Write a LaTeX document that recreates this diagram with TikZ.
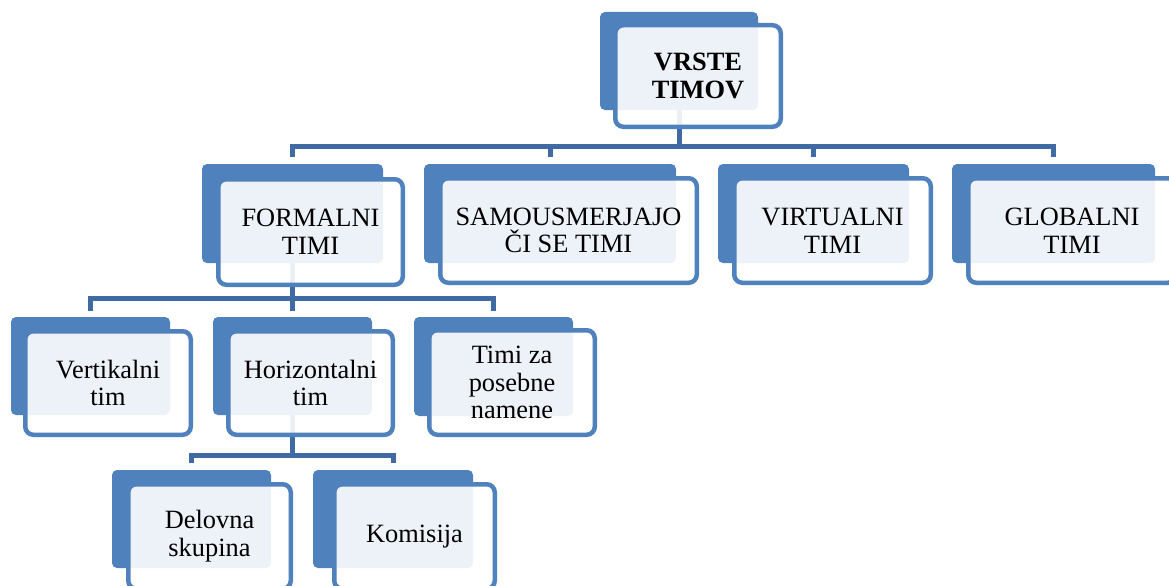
\documentclass[tikz,border=0pt]{standalone}
\usepackage{fontspec}
\setmainfont{Liberation Serif}
\definecolor{accent}{HTML}{4F81BD}
\definecolor{linkblue}{HTML}{406AA3}
\tikzset{
  backbox/.style={rectangle, fill=accent, draw=none, rounded corners=3.75pt,
    inner sep=0pt, outer sep=0pt},
  frontbox/.style={rectangle, draw=accent, line width=3.375pt, fill=white,
    fill opacity=0.9, text opacity=1, rounded corners=6pt, inner sep=0pt,
    outer sep=0pt, align=center, font=\fontsize{19.8}{20.8}\selectfont},
  conn/.style={draw=linkblue, line width=3.75pt}
}
% back plate: name, left, top, right, bottom (pixel grid)
\newcommand\backrect[5]{\node[backbox, minimum width={(#4-(#2))*0.75pt},
  minimum height={(#5-(#3))*0.75pt}] (#1) at ({(#2+#4)/2},{(#3+#5)/2}) {};}
% framed text panel: name, left, top, right, bottom, text
\newcommand\frontrect[6]{\node[frontbox, minimum width={(#4-(#2)-4.5)*0.75pt},
  minimum height={(#5-(#3)-4.5)*0.75pt}] (#1) at ({(#2+#4)/2},{(#3+#5)/2}) {#6};}
% elbow connector: parent, child, bar level, gap above child
\newcommand\link[4]{\draw[conn] (#1.south) |- (#2.north |- 0,#3) -- ([yshift=#4*0.75pt]#2.north);}
\begin{document}
\begin{tikzpicture}[x=0.75pt,y=-0.75pt]
\clip (0,0) rectangle (1169,585);
\fill[white] (0,0) rectangle (1169,585);

% back plates
\backrect{vrsteB}{600}{12}{758}{110}
\backrect{formB}{202}{164}{383}{263}
\backrect{samoB}{424}{164}{676}{263}
\backrect{virtB}{718}{164}{909}{263}
\backrect{globB}{952}{164}{1155}{263}
\backrect{vertB}{11}{317}{170}{415}
\backrect{horB}{213}{317}{372}{415}
\backrect{posB}{414}{317}{573}{416}
\backrect{delB}{112}{470}{271}{568}
\backrect{komB}{313}{470}{473}{568}

% connectors
\link{vrsteB}{formB}{146.5}{7}
\link{vrsteB}{samoB}{146.5}{7}
\link{vrsteB}{virtB}{146.5}{7}
\link{vrsteB}{globB}{146.5}{7}
\link{formB}{vertB}{298.5}{6.5}
\link{formB}{horB}{298.5}{6.5}
\link{formB}{posB}{298.5}{6.5}
\link{horB}{delB}{455}{7}
\link{horB}{komB}{455}{7}

% framed text panels
\frontrect{vrste}{613}{23}{783}{129}{\bfseries VRSTE\\\bfseries TIMOV}
\frontrect{form}{216}{177}{405}{287}{FORMALNI\\TIMI}
\frontrect{samo}{438}{176}{699}{285}{SAMOUSMERJAJO\\ČI SE TIMI}
\frontrect{virt}{732}{176}{933}{285}{VIRTUALNI\\TIMI}
\frontrect{glob}{966}{176}{1178}{285}{GLOBALNI\\TIMI}
\frontrect{vert}{23}{329}{193}{437}{Vertikalni\\tim}
\frontrect{hor}{226}{329}{395}{437}{Horizontalni\\tim}
\frontrect{pos}{427}{328}{597}{437}{Timi za\\posebne\\namene}
\frontrect{del}{126}{482}{293}{591}{Delovna\\skupina}
\frontrect{kom}{332}{482}{497}{591}{Komisija}
\end{tikzpicture}
\end{document}
